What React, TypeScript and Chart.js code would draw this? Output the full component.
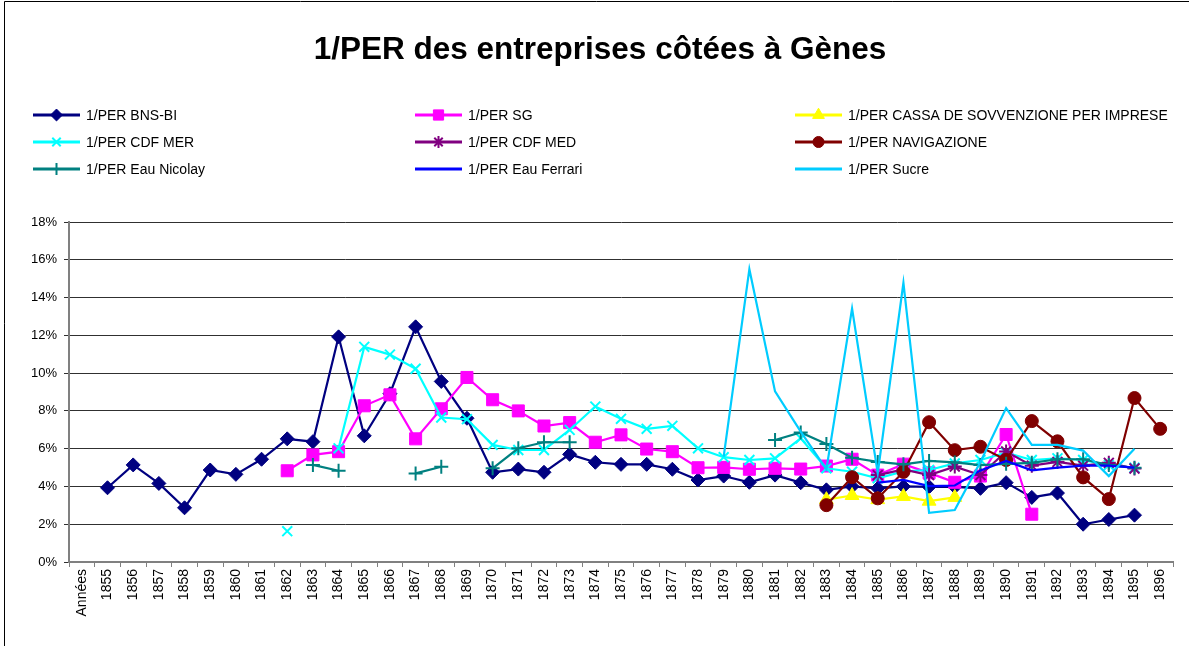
import React, { useEffect, useRef } from 'react';
import { Chart, registerables } from 'chart.js';
import { drawPoint } from 'chart.js/helpers';

Chart.register(...registerables);

const title = '1/PER des entreprises côtées à Gènes';
const firstLabel = 'Années';
const years = [
  1855, 1856, 1857, 1858, 1859, 1860, 1861, 1862, 1863, 1864, 1865, 1866, 1867, 1868,
  1869, 1870, 1871, 1872, 1873, 1874, 1875, 1876, 1877, 1878, 1879, 1880, 1881, 1882,
  1883, 1884, 1885, 1886, 1887, 1888, 1889, 1890, 1891, 1892, 1893, 1894, 1895, 1896,
];
const yTicks = [0, 2, 4, 6, 8, 10, 12, 14, 16, 18];

// values in %, each list starts at the given year; null = no value
const bnsStart = 1855;
const bnsValues = [
  3.93, 5.14, 4.16, 2.87, 4.87, 4.64, 5.44, 6.52, 6.37, 11.92, 6.68, 8.91, 12.45, 9.56,
  7.61, 4.75, 4.92, 4.75, 5.7, 5.28, 5.17, 5.17, 4.91, 4.34, 4.55, 4.22, 4.6, 4.2,
  3.82, 4.0, 3.9, 4.0, 3.98, 3.98, 3.9, 4.2, 3.42, 3.65, 2.0, 2.25, 2.48,
];
const sgStart = 1862;
const sgValues = [
  4.83, 5.67, 5.84, 8.27, 8.85, 6.52, 8.11, 9.77, 8.59, 8.0, 7.2, 7.38, 6.34, 6.73,
  5.98, 5.84, 4.99, 5.01, 4.91, 4.96, 4.92, 5.08, 5.44, 4.6, 5.18, 4.72, 4.22, 4.55,
  6.75, 2.53,
];
const cassaStart = 1883;
const cassaValues = [3.3, 3.52, 3.3, 3.47, 3.22, 3.42];
const cdfMerStart = 1862;
const cdfMerValues = [
  1.63, null, 6.02, 11.39, 10.98, 10.23, 7.65, 7.56, 6.2, 5.93, 5.93, 6.99, 8.23, 7.58,
  7.05, 7.21, 6.02, 5.55, 5.4, 5.49, 6.55, 4.96, 4.78, 4.43, 4.8, 4.87, 5.22, 5.4,
  5.79, 5.4, 5.49, 5.4, 5.13, 4.99,
];
const cdfMedStart = 1885;
const cdfMedValues = [4.6, 4.9, 4.6, 5.05, 4.6, 5.85, 5.1, 5.3, 5.1, 5.25, 4.95];
const navStart = 1883;
const navValues = [3.01, 4.49, 3.37, 4.77, 7.4, 5.92, 6.1, 5.4, 7.46, 6.39, 4.48, 3.33, 8.68, 7.05];
const nicolayStart = 1863;
const nicolayValues = [
  5.14, 4.83, null, null, 4.69, 5.04, null, 4.96, 6.02, 6.34, 6.34, null, null, null,
  null, null, null, null, 6.46, 6.86, 6.25, 5.52, 5.3, 5.17, 5.35, 5.27, 5.13, 5.2,
  5.25, 5.44, 5.44, 5.13, 4.99,
];
const ferrariStart = 1885;
const ferrariValues = [4.2, 4.35, 4.02, 4.05, 4.85, 5.35, 4.85, 5.0, 5.1, 5.1, 5.0];
const sucreStart = 1879;
const sucreValues = [
  5.58, 15.5, 9.03, 6.9, 4.9, 13.42, 4.7, 14.78, 2.6, 2.75, 5.3, 8.15, 6.2, 6.2, 5.9,
  4.55, 6.0,
];

function series(start: number, values: (number | null)[]) {
  const out: (number | null)[] = [null];
  years.forEach((y) => {
    const i = y - start;
    out.push(i >= 0 && i < values.length ? values[i] : null);
  });
  return out;
}

const FONT = '"Liberation Sans", Arial, sans-serif';

const legendPlugin = {
  id: 'gridLegend',
  afterDraw(chart: any) {
    const ctx = chart.ctx;
    // title
    ctx.save();
    ctx.fillStyle = '#000';
    ctx.font = 'bold 31.5px ' + FONT;
    ctx.textAlign = 'center';
    ctx.textBaseline = 'middle';
    ctx.fillText(title, 600, 50);
    ctx.restore();

    const cols = [33, 415, 795];
    const rows = [115, 142, 169];
    chart.data.datasets.forEach((ds: any, i: number) => {
      const x = cols[i % 3];
      const y = rows[Math.floor(i / 3)];
      ctx.save();
      ctx.strokeStyle = ds.borderColor;
      ctx.lineWidth = 3;
      ctx.beginPath();
      ctx.moveTo(x, y);
      ctx.lineTo(x + 47, y);
      ctx.stroke();
      if (ds.pointRadius > 0) {
        ctx.fillStyle = ds.pointBackgroundColor;
        ctx.strokeStyle = ds.pointBorderColor;
        ctx.lineWidth = ds.pointBorderWidth;
        drawPoint(
          ctx,
          {
            pointStyle: ds.pointStyle,
            rotation: 0,
            radius: ds.pointRadius * 0.85,
            borderWidth: ds.pointBorderWidth,
          } as any,
          x + 23.5,
          y
        );
      }
      ctx.fillStyle = '#000';
      ctx.font = '14px ' + FONT;
      ctx.textBaseline = 'middle';
      ctx.textAlign = 'left';
      ctx.fillText(ds.label, x + 53, y + 1);
      ctx.restore();
    });
  },
};

const framePlugin = {
  id: 'frame',
  beforeDraw(chart: any) {
    const ctx = chart.ctx;
    ctx.save();
    ctx.fillStyle = '#fff';
    ctx.fillRect(0, 0, chart.width, chart.height);
    ctx.strokeStyle = '#000';
    ctx.lineWidth = 1;
    ctx.beginPath();
    ctx.moveTo(4.5, chart.height);
    ctx.lineTo(4.5, 1.5);
    ctx.lineTo(chart.width, 1.5);
    ctx.stroke();
    ctx.restore();
  },
};

function ds(
  label: string,
  data: (number | null)[],
  color: string,
  pointStyle: any,
  radius: number,
  borderW: number,
  order: number
) {
  return {
    label,
    data,
    borderColor: color,
    backgroundColor: color,
    pointBackgroundColor: color,
    pointBorderColor: color,
    pointStyle,
    pointRadius: radius,
    pointHoverRadius: radius,
    pointBorderWidth: borderW,
    borderWidth: 2.2,
    tension: 0,
    spanGaps: false,
    order,
  };
}

export default function App() {
  const ref = useRef<HTMLCanvasElement>(null);
  useEffect(() => {
    if (!ref.current) return;
    Chart.defaults.font.family = FONT;
    Chart.defaults.color = '#000';
    const labels = [firstLabel, ...years.map(String)];
    const chart = new Chart(ref.current, {
      type: 'line',
      data: {
        labels,
        datasets: [
          ds('1/PER BNS-BI', series(bnsStart, bnsValues), '#000080', 'rectRot', 7, 1, 9),
          ds('1/PER SG', series(sgStart, sgValues), '#FF00FF', 'rect', 8.5, 1, 8),
          ds('1/PER CASSA DE SOVVENZIONE PER IMPRESE', series(cassaStart, cassaValues), '#FFFF00', 'triangle', 8, 1, 7),
          ds('1/PER CDF MER', series(cdfMerStart, cdfMerValues), '#00FFFF', 'crossRot', 7, 2, 6),
          ds('1/PER CDF MED', series(cdfMedStart, cdfMedValues), '#800080', 'star', 7, 2, 5),
          ds('1/PER NAVIGAZIONE', series(navStart, navValues), '#800000', 'circle', 6.5, 1, 4),
          ds('1/PER Eau Nicolay', series(nicolayStart, nicolayValues), '#008080', 'cross', 7, 2, 3),
          ds('1/PER Eau Ferrari', series(ferrariStart, ferrariValues), '#0000FF', 'circle', 0, 0, 2),
          ds('1/PER Sucre', series(sucreStart, sucreValues), '#00CCFF', 'circle', 0, 0, 1),
        ],
      },
      options: {
        animation: false,
        responsive: false,
        maintainAspectRatio: false,
        layout: { padding: { left: 0, right: 16, top: 222, bottom: 0 } },
        plugins: {
          legend: { display: false },
          tooltip: { enabled: false },
          title: { display: false },
        },
        scales: {
          x: {
            type: 'category',
            offset: true,
            grid: {
              offset: true,
              drawOnChartArea: false,
              drawTicks: true,
              tickLength: 5,
              color: '#808080',
            },
            border: { color: '#808080', width: 2 },
            ticks: {
              autoSkip: false,
              maxRotation: 90,
              minRotation: 90,
              padding: 2,
              font: { size: 14, family: FONT },
              color: '#000',
            },
            afterFit(scale: any) {
              scale.height = 84;
            },
          },
          y: {
            min: 0,
            max: 18,
            afterBuildTicks(scale: any) {
              scale.ticks = yTicks.map((v) => ({ value: v }));
            },
            grid: {
              color: '#303030',
              lineWidth: 1,
              drawTicks: true,
              tickLength: 5,
            },
            border: { color: '#808080', width: 2 },
            ticks: {
              padding: 7,
              font: { size: 13, family: FONT },
              color: '#000',
              callback: (v: any) => v + '%',
            },
            afterFit(scale: any) {
              scale.width = 69;
            },
          },
        },
      },
      plugins: [framePlugin, legendPlugin],
    });
    return () => chart.destroy();
  }, []);
  return (
    <div style={{ position: 'fixed', left: 0, top: 0, width: 1189, height: 646, background: '#fff' }}>
      <canvas ref={ref} width={1189} height={646} style={{ width: 1189, height: 646, display: 'block' }} />
    </div>
  );
}
